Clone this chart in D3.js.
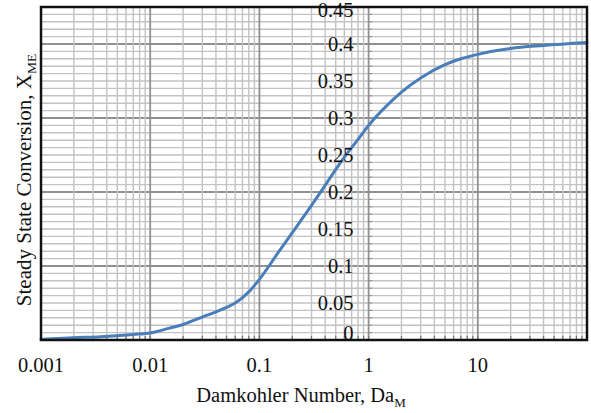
<!DOCTYPE html>
<html>
<head>
<meta charset="utf-8">
<script src="https://cdn.jsdelivr.net/npm/d3@7/dist/d3.min.js"></script>
<style>
  html, body { margin: 0; padding: 0; background: #fff; }
  svg { display: block; }
</style>
</head>
<body>
<svg id="chart" width="591" height="413"></svg>
<script>
// Damköhler number (log scale) and steady-state conversion
const damkohler = [0.001, 0.002, 0.0035, 0.007, 0.01, 0.015, 0.02, 0.03, 0.04, 0.05, 0.06,
  0.08, 0.1, 0.15, 0.2, 0.3, 0.4, 0.6, 0.8, 1, 1.5, 2, 3, 5, 7, 10, 20, 40, 100];
const conversion = [0.0008, 0.003, 0.0045, 0.0075, 0.0095, 0.016, 0.021, 0.031, 0.038, 0.044, 0.050,
  0.065, 0.082, 0.119, 0.145, 0.182, 0.209, 0.247, 0.271, 0.290, 0.318, 0.335, 0.354, 0.372,
  0.380, 0.386, 0.394, 0.398, 0.402];

const xTickValues = [0.001, 0.01, 0.1, 1, 10];
const xTickLabels = ["0.001", "0.01", "0.1", "1", "10"];
const yTickValues = [0, 0.05, 0.1, 0.15, 0.2, 0.25, 0.3, 0.35, 0.4, 0.45];
const yTickLabels = ["0", "0.05", "0.1", "0.15", "0.2", "0.25", "0.3", "0.35", "0.4", "0.45"];

const serif = "'Liberation Serif', 'Times New Roman', 'DejaVu Serif', serif";
const svg = d3.select("#chart")
  .attr("font-family", serif);
const plotLeft = 41, plotRight = 587, plotTop = 7, plotBottom = 340;

const x = d3.scaleLog().domain([0.001, 100]).range([plotLeft, plotRight]);
const y = d3.scaleLinear().domain([0, 0.45]).range([plotBottom, plotTop]);

const grid = svg.append("g");
const minorColor = "#c2c2c2", majorColor = "#909090";

// horizontal grid: every 0.01, darker every 0.1
d3.range(1, 45).forEach(i => {
  const v = i / 100;
  const major = i % 10 === 0;
  grid.append("line")
    .attr("x1", plotLeft).attr("x2", plotRight)
    .attr("y1", y(v)).attr("y2", y(v))
    .attr("stroke", major ? majorColor : minorColor)
    .attr("stroke-width", major ? 1.8 : 1.4);
});

// vertical grid: log minors 2..9, darker at each decade
const decades = [0.001, 0.01, 0.1, 1, 10];
decades.forEach(d => {
  d3.range(1, 10).forEach(m => {
    const v = d * m;
    if (v <= 0.001 || v >= 100) return;
    const major = m === 1;
    grid.append("line")
      .attr("x1", x(v)).attr("x2", x(v))
      .attr("y1", plotTop).attr("y2", plotBottom)
      .attr("stroke", major ? majorColor : minorColor)
      .attr("stroke-width", major ? 1.8 : 1.4);
    // small tick marks along the bottom edge
    grid.append("line")
      .attr("x1", x(v)).attr("x2", x(v))
      .attr("y1", plotBottom - 4).attr("y2", plotBottom)
      .attr("stroke", "#777").attr("stroke-width", 1.2);
  });
});

// vertical value axis crossing at Da = 1, with minor ticks
const axisX = x(1);
d3.range(0, 46).forEach(i => {
  grid.append("line")
    .attr("x1", axisX).attr("x2", axisX + 3.5)
    .attr("y1", y(i / 100)).attr("y2", y(i / 100))
    .attr("stroke", "#8a8a8a").attr("stroke-width", 1);
});

// curve
const line = d3.line()
  .x((d, i) => x(damkohler[i]))
  .y(d => y(d))
  .curve(d3.curveMonotoneX);
svg.append("path")
  .datum(conversion)
  .attr("d", line)
  .attr("fill", "none")
  .attr("stroke", "#4a7ebb")
  .attr("stroke-width", 3)
  .attr("stroke-linejoin", "round")
  .attr("stroke-linecap", "round");

// plot frame
svg.append("rect")
  .attr("x", plotLeft).attr("y", plotTop)
  .attr("width", plotRight - plotLeft).attr("height", plotBottom - plotTop)
  .attr("fill", "none")
  .attr("stroke", "#111")
  .attr("stroke-width", 2.5);

// y tick labels next to the axis at Da = 1
svg.append("g").selectAll("text")
  .data(yTickValues)
  .join("text")
  .attr("x", axisX - 15)
  .attr("y", d => Math.min(Math.max(y(d), plotTop + 3), plotBottom - 7))
  .attr("dy", "0.35em")
  .attr("text-anchor", "end")
  .attr("font-size", 20.5)
  .attr("fill", "#111")
  .text((d, i) => yTickLabels[i]);

// x tick labels
svg.append("g").selectAll("text")
  .data(xTickValues)
  .join("text")
  .attr("x", d => x(d))
  .attr("y", 372)
  .attr("text-anchor", "middle")
  .attr("font-size", 20.5)
  .attr("fill", "#111")
  .text((d, i) => xTickLabels[i]);

// axis titles
const xt = svg.append("text")
  .attr("x", 301).attr("y", 402)
  .attr("text-anchor", "middle")
  .attr("font-size", 20.5)
  .attr("fill", "#111");
xt.append("tspan").text("Damkohler Number, Da");
xt.append("tspan").attr("font-size", 13).attr("dy", 5).text("M");

const yt = svg.append("text")
  .attr("transform", "translate(31,180) rotate(-90)")
  .attr("text-anchor", "middle")
  .attr("font-size", 21)
  .attr("fill", "#111");
yt.append("tspan").text("Steady State Conversion, X");
yt.append("tspan").attr("font-size", 13.5).attr("dy", 5).text("ME");
</script>
</body>
</html>
